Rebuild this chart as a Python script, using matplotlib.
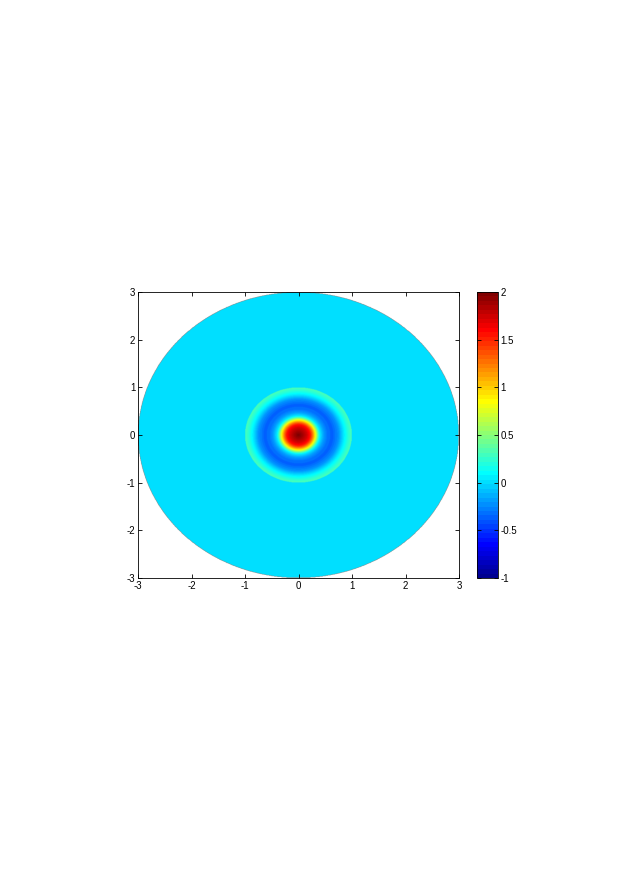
import numpy as np
import matplotlib
matplotlib.use("Agg")
import matplotlib.pyplot as plt
from matplotlib.ticker import FuncFormatter
from matplotlib.colors import ListedColormap

plt.rcParams['font.family'] = ['Liberation Sans', 'DejaVu Sans']
plt.rcParams['axes.unicode_minus'] = False

# radial profile (inner disk, r <= 1)
profile_r = [0.0, 0.09, 0.16, 0.22, 0.26, 0.31, 0.37, 0.40, 0.47, 0.56, 0.65, 0.75, 0.85, 0.93, 1.00]
profile_v = [2.0, 1.85, 1.72, 1.55, 1.30, 0.90, 0.30, 0.05, -0.18, -0.34, -0.35, -0.22, 0.05, 0.22, 0.33]
inner_radius = 1.0
outer_radius = 3.0
outer_value = 0.0
clim = [-1.0, 2.0]
axis_ticks = [-3, -2, -1, 0, 1, 2, 3]
cbar_ticks = [-1, -0.5, 0, 0.5, 1, 1.5, 2]


def matlab_jet(m=64):
    n = int(np.ceil(m / 4))
    u = np.concatenate([np.arange(1, n + 1) / n, np.ones(n - 1), np.arange(n, 0, -1) / n])
    g = int(np.ceil(n / 2)) - (1 if m % 4 == 1 else 0) + np.arange(1, len(u) + 1)
    r = g + n
    b = g - n
    J = np.zeros((m, 3))
    for col, idx in ((0, r), (1, g), (2, b)):
        ok = (idx >= 1) & (idx <= m)
        J[idx[ok] - 1, col] = u[ok]
    return ListedColormap(J)


n = 700
xs = np.linspace(-3, 3, n)
X, Y = np.meshgrid(xs, xs)
R = np.hypot(X, Y)
Z = np.where(R <= inner_radius, np.interp(R, profile_r, profile_v), outer_value)
Z = np.where(R <= outer_radius, Z, np.nan)

fig = plt.figure(figsize=(6.23, 8.81), dpi=100)
ax = fig.add_axes([138/623, 303/881, 321/623, 286/881])
cmap = matlab_jet(64)
im = ax.imshow(Z, extent=[-3, 3, -3, 3], origin='lower', cmap=cmap,
               vmin=clim[0], vmax=clim[1], aspect='auto', interpolation='bilinear')
ax.set_xlim(-3, 3)
ax.set_ylim(-3, 3)
ax.set_xticks(axis_ticks)
ax.set_yticks(axis_ticks)
fmt = FuncFormatter(lambda v, p: '%g' % v)
ax.xaxis.set_major_formatter(fmt)
ax.yaxis.set_major_formatter(fmt)
ax.tick_params(direction='in', length=3, width=0.6, labelsize=7, top=True, right=True, pad=2)
for s in ax.spines.values():
    s.set_linewidth(0.6)

cax = fig.add_axes([477/623, 303/881, 21/623, 286/881])
cb = fig.colorbar(im, cax=cax)
cb.set_ticks(cbar_ticks)
cb.ax.yaxis.set_major_formatter(fmt)
cb.ax.tick_params(direction='in', length=3, width=0.6, labelsize=7, left=True, right=True, pad=2)
cb.outline.set_linewidth(0.6)

fig.savefig('out.png', dpi=100)
